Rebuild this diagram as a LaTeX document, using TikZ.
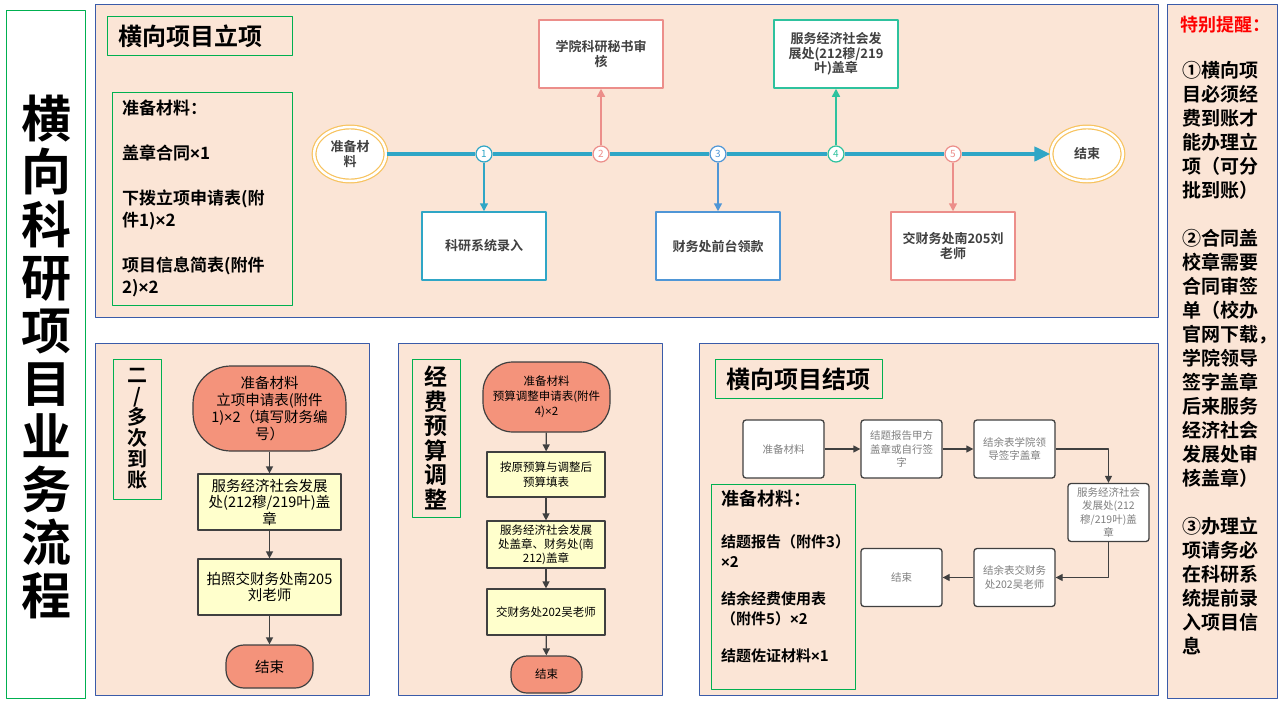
\documentclass[tikz,border=0pt]{standalone}
\usepackage{fontspec}
\setmainfont{Noto Sans CJK SC}[BoldFont={Noto Sans CJK SC Bold}]
\newfontfamily\latinf{Liberation Sans}
\usetikzlibrary{arrows.meta,shapes.geometric,positioning}
\definecolor{peach}{HTML}{FBE5D6}
\definecolor{panelblue}{HTML}{3A5BA9}
\definecolor{framegreen}{HTML}{00B050}
\definecolor{lineteal}{HTML}{2FA6C6}
\definecolor{pinkc}{HTML}{EC8E8A}
\definecolor{bluec}{HTML}{4F96D6}
\definecolor{greenc}{HTML}{2EC29E}
\definecolor{ellorange}{HTML}{F7C35F}
\definecolor{salmon}{HTML}{F4937B}
\definecolor{yellowf}{HTML}{FFFFCC}
\definecolor{darkline}{HTML}{404040}
\newcommand{\setfs}[2]{\fontsize{#1}{#2}\selectfont}
\newcommand{\tms}{{\latinf ×}}

\begin{document}
\begin{tikzpicture}[x=1pt,y=-1pt, line join=round, >={Triangle[length=8pt,width=8pt]}]
	\tikzset{panel/.style={draw=panelblue, fill=peach, line width=1pt},
		gframe/.style={draw=framegreen, line width=1pt},
		startend/.style={ellipse, draw=ellorange, line width=1.2pt, double=white, double distance=2.5pt, fill=white, minimum width=72pt, minimum height=54pt, inner sep=0, font=\setfs{13}{15}\bfseries, text=darkline, align=center},
		marker/.style={circle, draw=#1, text=#1, fill=white, line width=1.2pt, minimum size=16pt, inner sep=0, font=\setfs{10}{10}},
		stepbox/.style={rectangle, draw=#1, fill=white, line width=1.5pt, minimum width=124pt, minimum height=68pt, font=\setfs{13}{14.5}\bfseries, text=darkline, align=center},
		term/.style={rectangle, draw=darkline, fill=salmon, line width=1.2pt, align=center},
		flowbox/.style={rectangle, draw=darkline, fill=yellowf, line width=1.2pt, align=center},
		closebox/.style={rectangle, rounded corners=3pt, draw=darkline, fill=white, line width=1.3pt, minimum width=81pt, minimum height=58pt, font=\setfs{10.5}{13.5}, text=gray, align=center},
		flowarrow/.style={->, draw=darkline, line width=1.3pt, >={Triangle[length=7pt,width=7pt]}}}
	\useasboundingbox (0,0) rectangle (1280,720);
	\fill[white] (0,0) rectangle (1280,720);
	% left title
	\draw[gframe] (6,10) rectangle (85,698);
	\node[font=\setfs{50}{53}\bfseries, align=center] (maintitle) at (46,357) {横\\向\\科\\研\\项\\目\\业\\务\\流\\程};
	% top panel
	\draw[panel] (95,4) rectangle (1158,317);
	\draw[gframe] (107,16) rectangle (292,55);
	\node[font=\setfs{24}{26}\bfseries, anchor=west] (lxtitle) at (115,36) {横向项目立项};
	\draw[gframe] (112,92) rectangle (292,305);
	\node[font=\setfs{17}{22}\bfseries, align=left, anchor=north west, inner sep=0] (lxmat) at (122,100) {准备材料：\\[23pt]盖章合同\tms1\\[23pt]下拨立项申请表(附\\件1)\tms2\\[23pt]项目信息简表(附件\\2)\tms2};
	\node[startend] (start) at (350,154) {准备材\\料};
	\node[startend] (finish) at (1087,154) {结束};
	\node[marker=lineteal] (m1) at (484,154) {1};
	\node[marker=pinkc] (m2) at (601,154) {2};
	\node[marker=bluec] (m3) at (718,154) {3};
	\node[marker=greenc] (m4) at (836,154) {4};
	\node[marker=pinkc] (m5) at (953,154) {5};
	\draw[lineteal, line width=4pt] (start) -- (m1) -- (m2) -- (m3) -- (m4) -- (m5);
	\draw[lineteal, line width=4pt, -{Triangle[length=16pt,width=14pt]}] (m5) -- (finish);
	\node[stepbox=lineteal] (s1) at (484,246) {科研系统录入};
	\node[stepbox=pinkc] (s2) at (601,54) {学院科研秘书审\\核};
	\node[stepbox=bluec] (s3) at (718,246) {财务处前台领款};
	\node[stepbox=greenc] (s4) at (836,54) {服务经济社会发\\展处(212穆/219\\叶)盖章};
	\node[stepbox=pinkc] (s5) at (953,246) {交财务处南205刘\\老师};
	\draw[->, lineteal, line width=1.5pt] (m1) -- (s1);
	\draw[->, pinkc, line width=1.5pt] (m2) -- (s2);
	\draw[->, bluec, line width=1.5pt] (m3) -- (s3);
	\draw[->, greenc, line width=1.5pt] (m4) -- (s4);
	\draw[->, pinkc, line width=1.5pt] (m5) -- (s5);
	% reminder panel
	\draw[panel] (1167,4) rectangle (1277,698);
	\node[red, font=\setfs{18}{20}\bfseries] (tiphead) at (1225,25) {特别提醒：};
	\node[font=\setfs{19}{24}\bfseries, align=left, anchor=north west, inner sep=0] (tips) at (1182,61) {①横向项\\目必须经\\费到账才\\能办理立\\项（可分\\批到账）\\[24pt]②合同盖\\校章需要\\合同审签\\单（校办\\官网下载，\\学院领导\\签字盖章\\后来服务\\经济社会\\发展处审\\核盖章）\\[24pt]③办理立\\项请务必\\在科研系\\统提前录\\入项目信\\息};
	% panel: several payments
	\draw[panel] (95,343) rectangle (369,695);
	\draw[gframe] (113,359) rectangle (161,499);
	\node[font=\setfs{20}{21}\bfseries, align=center] (dcdz) at (137,429) {二\\/\\多\\次\\到\\账};
	\node[term, minimum width=153pt, minimum height=85pt, rounded corners=38pt, font=\setfs{14.5}{17}] (pa1) at (269.5,408.5) {准备材料\\立项申请表(附件\\1)\tms2（填写财务编\\号）};
	\node[flowbox, minimum width=143pt, minimum height=56pt, font=\setfs{14.5}{16.5}] (pa2) at (269.5,502) {服务经济社会发展\\处(212穆/219叶)盖\\章};
	\node[flowbox, minimum width=143pt, minimum height=56pt, font=\setfs{14.5}{16.5}] (pa3) at (269.5,587) {拍照交财务处南205\\刘老师};
	\node[term, minimum width=87pt, minimum height=43pt, rounded corners=18pt, font=\setfs{14.5}{16.5}] (pa4) at (269.5,666.5) {结束};
	\draw[flowarrow] (pa1) -- (pa2);
	\draw[flowarrow] (pa2) -- (pa3);
	\draw[flowarrow] (pa3) -- (pa4);
	% panel: budget change
	\draw[panel] (398,343) rectangle (662,695);
	\draw[gframe] (412,359) rectangle (460,517);
	\node[font=\setfs{23}{24.5}\bfseries, align=center] (jftz) at (436,438) {经\\费\\预\\算\\调\\整};
	\node[term, minimum width=127pt, minimum height=70pt, rounded corners=30pt, font=\setfs{11.5}{15}] (pb1) at (546.5,397) {准备材料\\预算调整申请表(附件\\4)\tms2};
	\node[flowbox, minimum width=118pt, minimum height=45pt, font=\setfs{11.5}{15}] (pb2) at (546,474.5) {按原预算与调整后\\预算填表};
	\node[flowbox, minimum width=118pt, minimum height=47pt, font=\setfs{11.5}{14}] (pb3) at (546,544.5) {服务经济社会发展\\处盖章、财务处(南\\212)盖章};
	\node[flowbox, minimum width=118pt, minimum height=46pt, font=\setfs{11.5}{14}] (pb4) at (546,612) {交财务处202吴老师};
	\node[term, minimum width=71pt, minimum height=37pt, rounded corners=16pt, font=\setfs{11.5}{14}] (pb5) at (546.5,674.5) {结束};
	\draw[flowarrow] (pb1) -- (pb2);
	\draw[flowarrow] (pb2) -- (pb3);
	\draw[flowarrow] (pb3) -- (pb4);
	\draw[flowarrow] (pb4) -- (pb5);
	% panel: closing
	\draw[panel] (699,343) rectangle (1158,695);
	\draw[gframe] (715,359) rectangle (882,398);
	\node[font=\setfs{24}{26}\bfseries, anchor=west] (jxtitle) at (723,379) {横向项目结项};
	\node[closebox] (ca) at (783.5,449) {准备材料};
	\node[closebox] (cb) at (901.5,449) {结题报告甲方\\盖章或自行签\\字};
	\node[closebox] (cc) at (1014.5,449) {结余表学院领\\导签字盖章};
	\node[closebox] (cd) at (1108.5,512.5) {服务经济社会\\发展处(212\\穆/219叶)盖\\章};
	\node[closebox] (ce) at (1014.5,577.5) {结余表交财务\\处202吴老师};
	\node[closebox] (cf) at (901.5,577.5) {结束};
	\draw[flowarrow] (ca) -- (cb);
	\draw[flowarrow] (cb) -- (cc);
	\draw[flowarrow] (cc) -| (cd);
	\draw[flowarrow] (cd) |- (ce);
	\draw[flowarrow] (ce) -- (cf);
	\draw[gframe] (711,484) rectangle (855,689);
	\node[font=\setfs{15}{20}\bfseries, align=left, anchor=north west, inner sep=0] (jxmat) at (721,490) {{\setfs{18}{20}\bfseries 准备材料：}\\[22pt]结题报告（附件3）\\\tms2\\[17pt]结余经费使用表\\（附件5）\tms2\\[17pt]结题佐证材料\tms1};
\end{tikzpicture}
\end{document}
